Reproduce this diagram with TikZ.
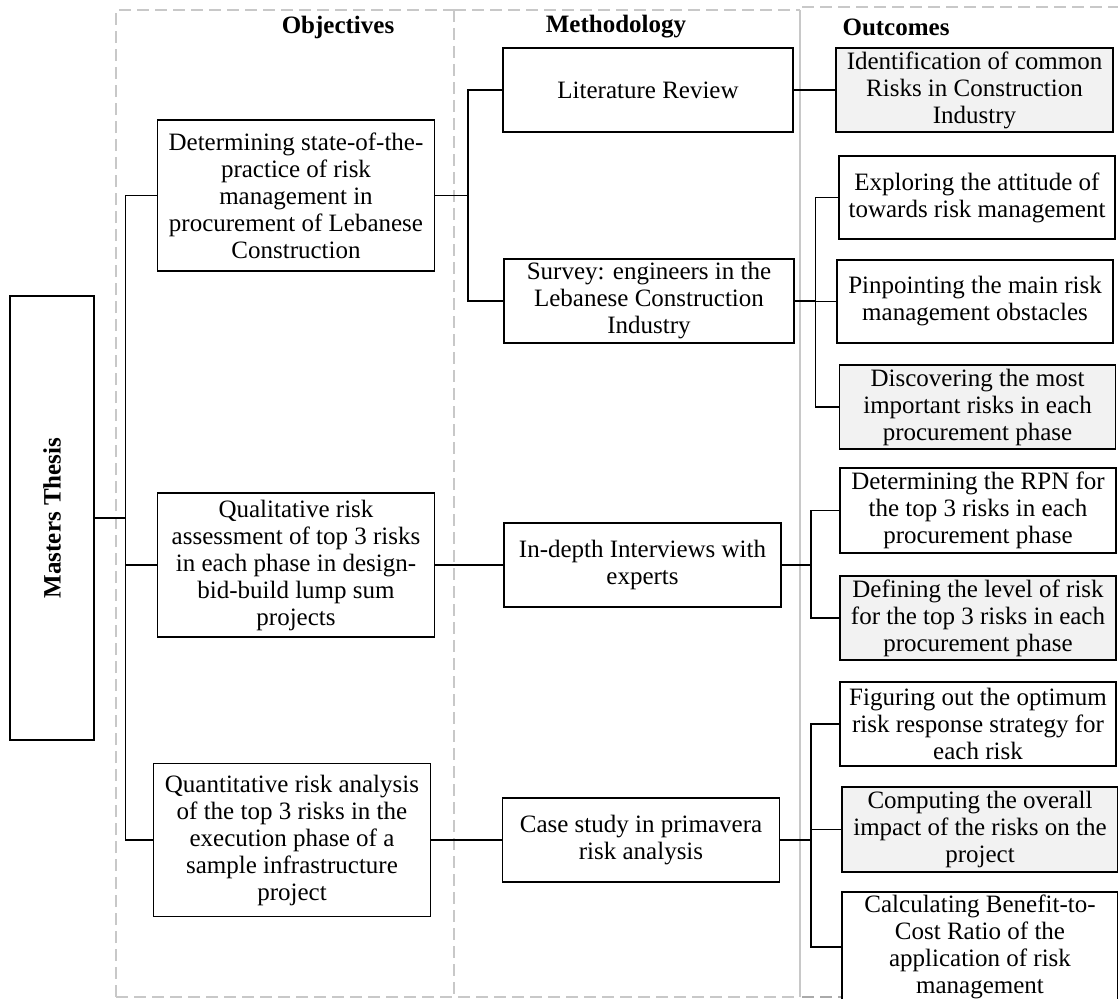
\documentclass[tikz,border=0pt]{standalone}
\usepackage{fontspec}
\setmainfont{Liberation Serif}
\definecolor{boxgray}{RGB}{242,242,242}
\definecolor{framegray}{RGB}{200,200,200}
\definecolor{framedark}{RGB}{170,170,170}
\begin{document}
\begin{tikzpicture}[x=1pt,y=-1pt,
  box/.style={draw=black, line width=1.3pt, fill=white, align=center, inner sep=1pt,
    font=\fontsize{25}{27}\selectfont},
  gbox/.style={box, fill=boxgray},
  conn/.style={draw=black, line width=1.2pt},
  frame/.style={draw=framegray, line width=1.2pt, dash pattern=on 12pt off 6pt},
  head/.style={font=\fontsize{25}{27}\selectfont\bfseries, inner sep=0pt}
]
\useasboundingbox (0,0) rectangle (1118,998);
\clip (0,0) rectangle (1118,998);

% column frames
\draw[frame] (116,997) -- (116,10) -- (454,10);
\draw[frame] (454,10) -- (454,997);
\draw[frame] (454,10) -- (800,10);
\draw[frame] (116,997) -- (800,997);
\draw[draw=framegray, line width=1.2pt] (800,10) -- (800,997);
\draw[frame] (802,7) -- (1130,7);
\draw[frame, draw=framedark] (802,997) -- (1130,997);

% headers
\node[head] (hobj) at (338,27) {Objectives};
\node[head] (hmet) at (616,27) {Methodology};
\node[head] (hout) at (896,27) {Outcomes};

% root
\node[box, rotate=90, minimum width=444pt, minimum height=84pt,
      font=\fontsize{25}{27}\selectfont\bfseries] (mt) at (52,518) {Masters Thesis};

% objectives
\node[box, minimum width=277pt, minimum height=151pt] (obj1) at (296,195.5)
  {Determining state-of-the-\\practice of risk\\management in\\procurement of Lebanese\\Construction};
\node[box, minimum width=277pt, minimum height=144pt] (obj2) at (296,565)
  {Qualitative risk\\assessment of top 3 risks\\in each phase in design-\\bid-build lump sum\\projects};
\node[box, minimum width=277pt, minimum height=153pt] (obj3) at (292,840)
  {Quantitative risk analysis\\of the top 3 risks in the\\execution phase of a\\sample infrastructure\\project};

% methodology
\node[box, minimum width=290pt, minimum height=84pt] (lit) at (648,90) {Literature Review};
\node[box, minimum width=290pt, minimum height=84pt] (sur) at (649,301)
  {Survey: engineers in the\\Lebanese Construction\\Industry};
\node[box, minimum width=277pt, minimum height=84pt] (int) at (642.5,565)
  {In-depth Interviews with\\experts};
\node[box, minimum width=277pt, minimum height=84pt] (case) at (641,840)
  {Case study in primavera\\risk analysis};

% outcomes
\node[gbox, minimum width=277pt, minimum height=84pt] (o1) at (974.5,90)
  {Identification of common\\Risks in Construction\\Industry};
\node[box, minimum width=276pt, minimum height=83pt] (o2) at (977,197.5)
  {Exploring the attitude of\\towards risk management};
\node[box, minimum width=276pt, minimum height=83pt] (o3) at (975,301.5)
  {Pinpointing the main risk\\management obstacles};
\node[gbox, minimum width=276pt, minimum height=84pt] (o4) at (977.5,407)
  {Discovering the most\\important risks in each\\procurement phase};
\node[box, minimum width=276pt, minimum height=85pt] (o5) at (978,510.5)
  {Determining the RPN for\\the top 3 risks in each\\procurement phase};
\node[gbox, minimum width=276pt, minimum height=84pt] (o6) at (978,618)
  {Defining the level of risk\\for the top 3 risks in each\\procurement phase};
\node[box, minimum width=276pt, minimum height=84pt] (o7) at (978,724)
  {Figuring out the optimum\\risk response strategy for\\each risk};
\node[gbox, minimum width=276pt, minimum height=85pt] (o8) at (980,829.5)
  {Computing the overall\\impact of the risks on the\\project};
\node[box, minimum width=276pt, minimum height=110pt] (o9) at (980,947)
  {Calculating Benefit-to-\\Cost Ratio of the\\application of risk\\management};

% junction points
\coordinate (t0) at ([xshift=31pt]mt.south);
\coordinate (m1) at (468,195.5);
\coordinate (s1) at (815.7,301);
\coordinate (i1) at (811,565);
\coordinate (c1) at (811,840);

% connectors
\draw[conn] (mt.south) -- (t0);
\draw[conn] (obj1.west) -| (t0);
\draw[conn] (obj2.west) -| (t0);
\draw[conn] (obj3.west) -| (t0);

\draw[conn] (obj1.east) -- (m1);
\draw[conn] (lit.west) -| (m1);
\draw[conn] (sur.west) -| (m1);

\draw[conn] (lit.east) -- (o1.west);

\draw[conn] (sur.east) -- (s1);
\draw[conn] (o2.west) -| (s1);
\draw[conn] (o3.west) -| (s1);
\draw[conn] (o4.west) -| (s1);

\draw[conn] (obj2.east) -- (int.west);
\draw[conn] (int.east) -- (i1);
\draw[conn] (o5.west) -| (i1);
\draw[conn] (o6.west) -| (i1);

\draw[conn] (obj3.east) -- (case.west);
\draw[conn] (case.east) -- (c1);
\draw[conn] (o7.west) -| (c1);
\draw[conn] (o8.west) -| (c1);
\draw[conn] (o9.west) -| (c1);
\end{tikzpicture}
\end{document}
